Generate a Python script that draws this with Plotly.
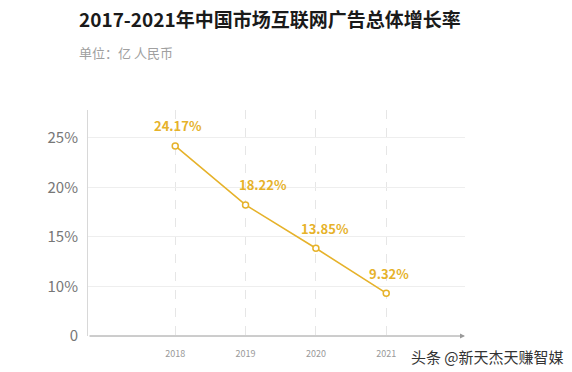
import plotly.graph_objects as go

years = [2018, 2019, 2020, 2021]
growth = [24.17, 18.22, 13.85, 9.32]
labels = ["24.17%", "18.22%", "13.85%", "9.32%"]
label_xshift = [3, 17, 9, 3]
ytick_vals = [5, 10, 15, 20, 25]
ytick_text = ["0", "10%", "15%", "20%", "25%"]

gold = "#e6b22a"
font = "Noto Sans CJK SC"

W, H = 572, 372
l, r, t, b = 88, 107, 110, 36
pw, ph = W - l - r, H - t - b

fig = go.Figure()
fig.add_trace(go.Scatter(
    x=years, y=growth, mode="lines+markers",
    line=dict(color=gold, width=1.6),
    marker=dict(symbol="circle", size=6, color="white", line=dict(color=gold, width=1.5)),
    cliponaxis=False, hoverinfo="skip",
))

for xv, yv, txt, xs in zip(years, growth, labels, label_xshift):
    fig.add_annotation(
        x=xv, y=yv, xref="x", yref="y", text=txt, showarrow=False,
        xshift=xs, yshift=20,
        font=dict(family=font, size=13, color=gold, weight=600),
    )

fig.update_layout(
    width=W, height=H,
    margin=dict(l=l, r=r, t=t, b=b),
    paper_bgcolor="white", plot_bgcolor="white",
    showlegend=False,
    font=dict(family=font),
    xaxis=dict(
        range=[2016.76, 2022.12], tickvals=years, ticktext=[str(y) for y in years],
        tickfont=dict(size=9, color="#999999", family=font),
        showgrid=True, gridcolor="#e6e6e6", griddash="dash", gridwidth=1,
        showline=False, zeroline=False, ticks="", ticklabelstandoff=11,
    ),
    yaxis=dict(
        range=[5, 27.8], tickvals=ytick_vals, ticktext=ytick_text,
        tickfont=dict(size=15, color="#777777", family=font),
        showgrid=True, gridcolor="#eeeeee", gridwidth=1,
        showline=True, linecolor="#d8d8d8", linewidth=1,
        zeroline=False, ticks="", ticklabelstandoff=6,
    ),
)

# x axis line with arrow
fig.add_annotation(
    x=2022.12, y=5, xref="x", yref="y", ax=-377, ay=0,
    showarrow=True, arrowhead=2, arrowsize=1, arrowwidth=1, arrowcolor="#9a9a9a", text="",
)

def px(xp, yp):
    return (xp - l) / pw, (H - b - yp) / ph

x0, y0 = px(77, 18)
fig.add_annotation(
    x=x0, y=y0, xref="paper", yref="paper", text="<b>2017-2021年中国市场互联网广告总体增长率</b>",
    showarrow=False, xanchor="left", yanchor="middle",
    font=dict(family=font, size=19, color="#1a1a1a"),
)
x0, y0 = px(77, 52)
fig.add_annotation(
    x=x0, y=y0, xref="paper", yref="paper", text="单位：亿 人民币",
    showarrow=False, xanchor="left", yanchor="middle",
    font=dict(family=font, size=13, color="#a0a0a0"),
)
x0, y0 = px(409, 356)
fig.add_annotation(
    x=x0, y=y0, xref="paper", yref="paper", text="头条 @新天杰天赚智媒",
    showarrow=False, xanchor="left", yanchor="middle",
    font=dict(family=font, size=15, color="#333333"),
)

fig.write_html("out.html", post_script="document.body.style.margin='0';",
               config={"displayModeBar": False})
